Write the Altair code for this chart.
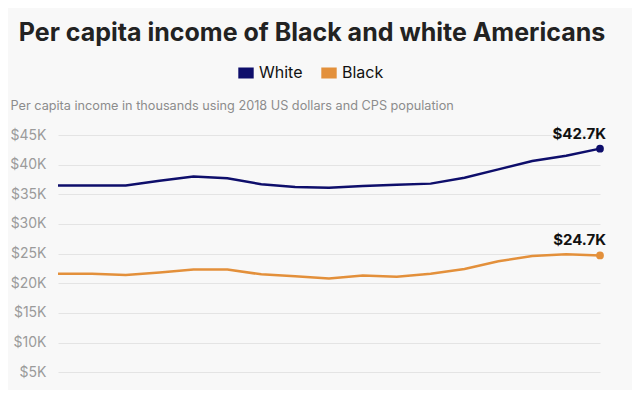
import altair as alt
import pandas as pd

years = list(range(2002, 2019))
white = [36500, 36500, 36500, 37300, 38000, 37700, 36700, 36250, 36100,
         36400, 36600, 36800, 37800, 39200, 40600, 41500, 42700]
black = [21600, 21600, 21400, 21800, 22300, 22300, 21500, 21200, 20800,
         21300, 21100, 21600, 22400, 23700, 24600, 24900, 24700]
groups = ["White", "Black"]
colors = ["#0e0e6b", "#e3903b"]
y_ticks = [5000, 10000, 15000, 20000, 25000, 30000, 35000, 40000, 45000]

rows = []
for g, vals in zip(groups, [white, black]):
    for yr, v in zip(years, vals):
        rows.append({"year": yr, "group": g, "value": v,
                     "label": f"${v/1000:.1f}K"})
df = pd.DataFrame(rows)
last = df[df["year"] == years[-1]]

FONT = "Inter"

x = alt.X("year:Q", axis=None,
          scale=alt.Scale(domain=[years[0], years[-1]], nice=False, zero=False))
y = alt.Y("value:Q",
          scale=alt.Scale(domain=[2000, 45000], nice=False, zero=False),
          axis=alt.Axis(values=y_ticks,
                        labelExpr="'$' + datum.value/1000 + 'K'",
                        title="Per capita income in thousands using 2018 US dollars and CPS population",
                        titleAngle=0, titleX=-48, titleY=-30, titleAlign="left",
                        titleBaseline="middle", titleFont=FONT, titleFontSize=12.7,
                        titleFontWeight="normal", titleColor="#8c8c8c",
                        labelFont=FONT, labelFontSize=14, labelColor="#9b9b9b",
                        labelPadding=12, domain=False, ticks=False,
                        grid=True, gridColor="#e4e4e4", gridWidth=1))
color = alt.Color("group:N",
                  scale=alt.Scale(domain=groups, range=colors),
                  legend=alt.Legend(title=None, orient="none", direction="horizontal",
                                    legendX=180, legendY=-70,
                                    symbolType="M-1.4,-1H1.4V1H-1.4Z", symbolSize=121,
                                    symbolStrokeWidth=0, symbolOpacity=1,
                                    labelFont=FONT, labelFontSize=16, labelColor="#111",
                                    columnPadding=18, labelOffset=5))

lines = alt.Chart(df).mark_line(strokeWidth=2.5).encode(x=x, y=y, color=color)
points = alt.Chart(last).mark_circle(size=60, opacity=1).encode(
    x=x, y=y, color=alt.Color("group:N", scale=alt.Scale(domain=groups, range=colors), legend=None))
labels = alt.Chart(last).mark_text(align="right", baseline="bottom", dx=6, dy=-7,
                                   font=FONT, fontSize=15, fontWeight="bold",
                                   color="#111").encode(x=x, y=y, text="label:N")

chart = alt.layer(lines, points, labels).properties(
    width=542, height=255,
    autosize=alt.AutoSizeParams(type="none"),
    padding={"left": 50, "top": 127, "right": 32, "bottom": 0},
    background="#f8f8f8",
    title=alt.Title("Per capita income of Black and white Americans",
                    font=FONT, fontSize=25, fontWeight="bold", color="#222",
                    anchor="middle", dx=-17, offset=19, frame="group"),
).configure_view(stroke=None)

chart.save("out.html", embed_options={"renderer": "svg", "actions": False})
